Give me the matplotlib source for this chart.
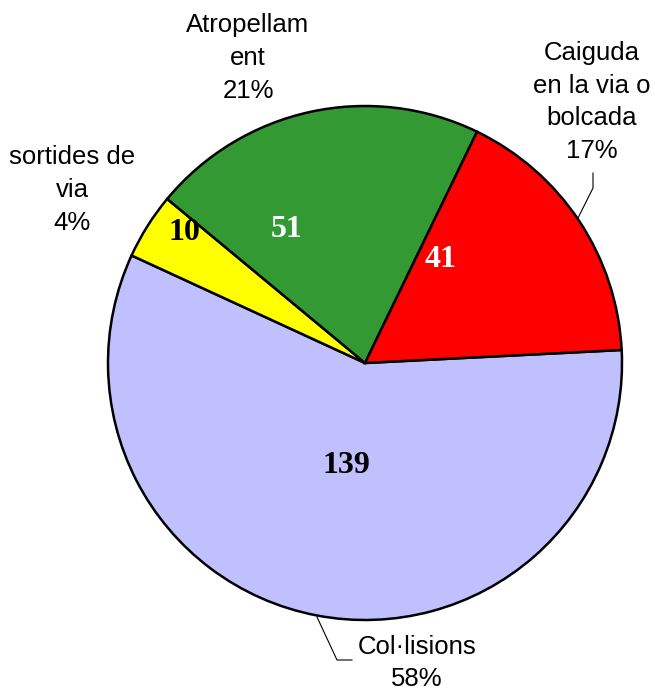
import matplotlib
matplotlib.use("Agg")
import matplotlib.pyplot as plt
import numpy as np

# ---- data ----
categories = ["Col·lisions", "sortides de via", "Atropellament", "Caiguda en la via o bolcada"]
display_labels = ["Col·lisions", "sortides de\nvia", "Atropellam\nent", "Caiguda\nen la via o\nbolcada"]
values = [139, 10, 51, 41]
colors = ["#C0C0FF", "#FFFF00", "#339933", "#FF0000"]
value_text_colors = ["black", "black", "white", "white"]

# ---- layout (pixel coordinates, y measured from top) ----
W, H = 655, 691
CX, CY, R = 365, 363, 257
START = 2.9
# value label placement: (angle deg, radius fraction)
value_pos = [(-100.5, 0.405), (144.1, 0.869), (120.2, 0.603), (53.6, 0.498)]
# outer label centres (x, y from top)
outer_pos = [(417, 663), (72, 190), (248, 58), (592, 102)]
leaders = {
    0: [(352, 660), (337, 660), (317, 617)],
    3: [(593, 173), (593, 188), (578, 218)],
}

fig = plt.figure(figsize=(W / 100, H / 100), dpi=100)
ax = fig.add_axes([0, 0, 1, 1])
ax.pie(values, colors=colors, startangle=START, counterclock=False,
       center=(CX, H - CY), radius=R,
       wedgeprops=dict(edgecolor="black", linewidth=1.8))
ax.set_xlim(0, W)
ax.set_ylim(0, H)
ax.set_aspect("equal")
ax.axis("off")

total = sum(values)
for i, v in enumerate(values):
    ang, rf = value_pos[i]
    x = CX + rf * R * np.cos(np.radians(ang))
    y = (H - CY) + rf * R * np.sin(np.radians(ang))
    ax.text(x, y, str(v), ha="center", va="center", fontsize=23,
            family="Liberation Serif", fontweight="bold", color=value_text_colors[i])

for i, lab in enumerate(display_labels):
    pct = round(values[i] / total * 100)
    x, y = outer_pos[i]
    ax.text(x, H - y, f"{lab}\n{pct}%", ha="center", va="center", fontsize=18.5,
            family="Liberation Sans", linespacing=1.45, color="black")

for i, pts in leaders.items():
    xs = [p[0] for p in pts]
    ys = [H - p[1] for p in pts]
    ax.plot(xs, ys, color="black", linewidth=0.8)

fig.savefig("out.png", dpi=100)
